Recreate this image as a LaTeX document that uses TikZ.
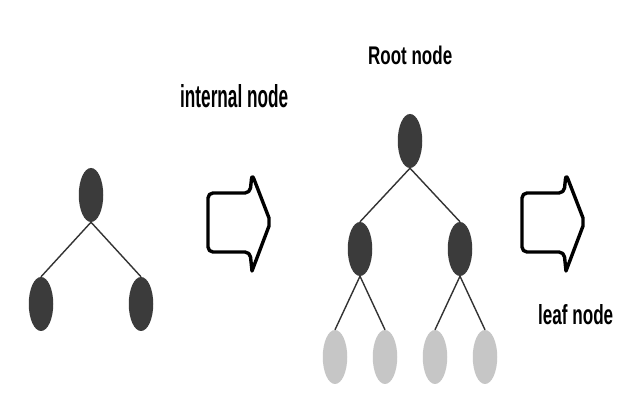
\documentclass[tikz,border=0pt]{standalone}
\usepackage{fontspec}
\setmainfont{Liberation Sans}
\usepackage{graphicx}
\usetikzlibrary{shapes.geometric}
\definecolor{darknode}{HTML}{3B3B3B}
\definecolor{lightnode}{HTML}{C6C6C6}
\definecolor{edgecol}{HTML}{333333}
\tikzset{
  treenode/.style={ellipse, minimum width=24.5pt, minimum height=54pt, inner sep=0pt},
  inner/.style={treenode, fill=darknode},
  leafnd/.style={treenode, fill=lightnode},
  link/.style={draw=edgecol, line width=1.4pt},
  label/.style={inner sep=0pt, anchor=south west},
  fatarrow/.pic={
    \draw[line width=3.4pt, line join=round, rounded corners=5pt]
      (0,0) -- (42,0) -- (44,-19) [sharp corners] -- (61,25) -- (61,33) -- (44,78) [rounded corners=5pt] -- (42,59) -- (0,59) -- cycle;
  }
}
\begin{document}
\begin{tikzpicture}[x=1pt, y=-1pt]
\useasboundingbox (0,0) rectangle (622,395);
\fill[white] (0,0) rectangle (622,395);

% left tree
\node[inner] (a) at (91,195) {};
\node[inner] (b) at (41,304) {};
\node[inner] (c) at (141,304) {};
\draw[link] (a.south) -- (b.north);
\draw[link] (a.south) -- (c.north);

% right tree
\node[inner] (r) at (410,141) {};
\node[inner] (m1) at (360,249) {};
\node[inner] (m2) at (460,249) {};
\node[leafnd] (l1) at (335,357) {};
\node[leafnd] (l2) at (385,357) {};
\node[leafnd] (l3) at (435,357) {};
\node[leafnd] (l4) at (485,357) {};
\draw[link] (r.south) -- (m1.north);
\draw[link] (r.south) -- (m2.north);
\draw[link] (m1.south) -- (l1.north);
\draw[link] (m1.south) -- (l2.north);
\draw[link] (m2.south) -- (l3.north);
\draw[link] (m2.south) -- (l4.north);

% arrows
\pic at (208,193) {fatarrow};
\pic at (522,193) {fatarrow};

% labels
\node[label] (t1) at (180,108) {\resizebox{108pt}{23pt}{\bfseries internal node}};
\node[label] (t2) at (368,65) {\resizebox{84pt}{18.5pt}{\bfseries Root node}};
\node[label] (t3) at (538,325) {\resizebox{75pt}{20pt}{\bfseries leaf node}};
\end{tikzpicture}
\end{document}
